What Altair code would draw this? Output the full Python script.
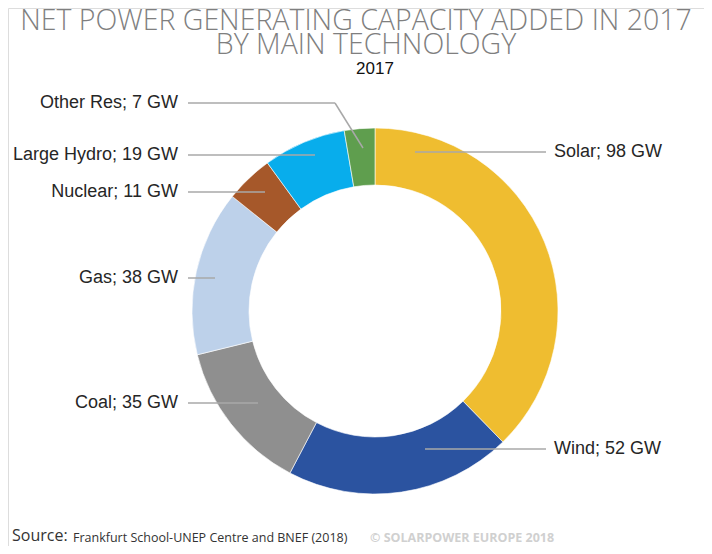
import altair as alt
import pandas as pd

# ---- data ----
categories = ["Solar", "Wind", "Coal", "Gas", "Nuclear", "Large Hydro", "Other Res"]
capacity_gw = [98, 52, 35, 38, 11, 19, 7]
colors = ["#EFBD30", "#2B53A0", "#8F8F8F", "#BDD1EA", "#A6582A", "#08ADEC", "#5F9E4E"]

# ---- layout (pixel positions within the 696x538 chart area) ----
W, H = 696, 538
CX, CY = 367, 303
R_OUT, R_IN = 183, 126
# label anchor: (side, text x, y, leader start x, leader end x)
label_layout = {
    "Solar":       ("left",  546, 144, 407, 538),
    "Wind":        ("left",  546, 441, 417, 538),
    "Coal":        ("right", 170, 395, 180, 250),
    "Gas":         ("right", 170, 270, 180, 207),
    "Nuclear":     ("right", 170, 184, 180, 257),
    "Large Hydro": ("right", 170, 147, 180, 307),
    "Other Res":   ("right", 170,  95, 180, 327),
}
other_diag_end = (355, 140)

df = pd.DataFrame({"cat": categories, "gw": capacity_gw, "idx": list(range(len(categories)))})
df["label"] = [f"{c}; {v} GW" for c, v in zip(categories, capacity_gw)]

xs = alt.Scale(domain=[0, W], range=[0, W])
ys = alt.Scale(domain=[0, H], range=[0, H])

arc = alt.Chart(df).mark_arc(radius=R_OUT, radius2=R_IN, stroke="white", strokeWidth=0.6).encode(
    theta=alt.Theta("gw:Q", stack=True),
    order=alt.Order("idx:Q"),
    color=alt.Color("cat:N", scale=alt.Scale(domain=categories, range=colors), legend=None),
    x=alt.value(CX), y=alt.value(CY),
)

rows = []
for cat, lab in zip(categories, df["label"]):
    side, tx, ty, lx1, lx2 = label_layout[cat]
    rows.append({"cat": cat, "label": lab, "side": side, "tx": tx, "ty": ty, "lx1": lx1, "lx2": lx2})
ann = pd.DataFrame(rows)

leaders = alt.Chart(ann).mark_rule(color="#A8A8A8", strokeWidth=1.5).encode(
    x=alt.X("lx1:Q", scale=xs, axis=None), x2="lx2:Q",
    y=alt.Y("ty:Q", scale=ys, axis=None),
)
o = label_layout["Other Res"]
diag_df = pd.DataFrame({"x1": [o[4]], "y1": [o[2]], "x2": [other_diag_end[0]], "y2": [other_diag_end[1]]})
diag = alt.Chart(diag_df).mark_rule(color="#A8A8A8", strokeWidth=1.5).encode(
    x=alt.X("x1:Q", scale=xs, axis=None), x2="x2:Q",
    y=alt.Y("y1:Q", scale=ys, axis=None), y2="y2:Q",
)

def labels(side):
    return alt.Chart(ann[ann["side"] == side]).mark_text(
        align=side, baseline="middle", font="Liberation Sans", fontSize=18, color="#262626"
    ).encode(
        x=alt.X("tx:Q", scale=xs, axis=None), y=alt.Y("ty:Q", scale=ys, axis=None), text="label:N"
    )

texts = pd.DataFrame({
    "t": ["NET POWER GENERATING CAPACITY ADDED IN 2017", "BY MAIN TECHNOLOGY"],
    "x": [348, 358], "y": [22, 46],
})
title = alt.Chart(texts).mark_text(
    align="center", baseline="alphabetic", font="Open Sans", fontWeight=300, fontSize=28.5, color="#7F7F7F"
).encode(x=alt.X("x:Q", scale=xs, axis=None), y=alt.Y("y:Q", scale=ys, axis=None), text="t:N")

sub = alt.Chart(pd.DataFrame({"t": ["2017"], "x": [367], "y": [61]})).mark_text(
    align="center", baseline="middle", font="Liberation Sans", fontSize=17, color="#111111"
).encode(x=alt.X("x:Q", scale=xs, axis=None), y=alt.Y("y:Q", scale=ys, axis=None), text="t:N")

src1 = alt.Chart(pd.DataFrame({"t": ["Source:"], "x": [4], "y": [528]})).mark_text(
    align="left", baseline="middle", font="Open Sans", fontSize=16, color="#333333"
).encode(x=alt.X("x:Q", scale=xs, axis=None), y=alt.Y("y:Q", scale=ys, axis=None), text="t:N")
src2 = alt.Chart(pd.DataFrame({"t": ["Frankfurt School-UNEP Centre and BNEF (2018)"], "x": [65], "y": [530]})).mark_text(
    align="left", baseline="middle", font="Open Sans", fontSize=12.5, color="#333333"
).encode(x=alt.X("x:Q", scale=xs, axis=None), y=alt.Y("y:Q", scale=ys, axis=None), text="t:N")
src3 = alt.Chart(pd.DataFrame({"t": ["© SOLARPOWER EUROPE 2018"], "x": [362], "y": [530]})).mark_text(
    align="left", baseline="middle", font="Open Sans", fontWeight="bold", fontSize=12.5, color="#D0D0D0"
).encode(x=alt.X("x:Q", scale=xs, axis=None), y=alt.Y("y:Q", scale=ys, axis=None), text="t:N")

chart = alt.layer(arc, leaders, diag, labels("left"), labels("right"), title, sub, src1, src2, src3).properties(
    width=W, height=H, autosize=alt.AutoSizeParams(type="none"), padding=0
).configure_view(stroke="transparent", strokeWidth=0, strokeOpacity=0).configure_axis(
    domain=False, grid=False, ticks=False, labels=False
).configure(background="white")

chart.save("out.html", embed_options={"renderer": "svg", "actions": False})
